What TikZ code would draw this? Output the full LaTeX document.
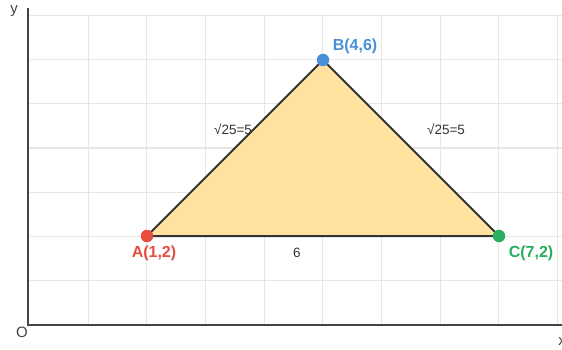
\documentclass[tikz,border=0pt]{standalone}
\usepackage{fontspec}
\setmainfont{Liberation Sans}
\definecolor{gridc}{HTML}{E6E6E6}
\definecolor{axisc}{HTML}{444444}
\definecolor{txtc}{HTML}{333333}
\definecolor{fillc}{HTML}{FFE2A0}
\definecolor{redc}{HTML}{E74C3C}
\definecolor{bluec}{HTML}{4A90D9}
\definecolor{greenc}{HTML}{27AE60}
\begin{document}
\begin{tikzpicture}[x=1pt,y=-1pt,
  gridline/.style={draw=gridc,line width=1pt},
  axisline/.style={draw=axisc,line width=2pt},
  vertex/.style={circle,inner sep=0pt,minimum size=12.5pt},
  ptlabel/.style={font=\fontsize{16}{18}\selectfont\bfseries,inner sep=0pt},
  sidelabel/.style={font=\fontsize{13.5}{15}\selectfont,text=txtc,inner sep=0pt},
  axislabel/.style={font=\fontsize{15}{17}\selectfont,text=axisc,inner sep=0pt}]
\useasboundingbox (0,0) rectangle (562,350);
% grid
\foreach \k in {0,...,8} {
  \draw[gridline] ({88.3+58.67*\k},15) -- ({88.3+58.67*\k},325);
}
\foreach \k in {1,...,7} {
  \draw[gridline] (28,{324-44*\k}) -- (562,{324-44*\k});
}
% axes
\coordinate (O) at (28,325);
\coordinate (ytop) at (28,8);
\coordinate (xend) at (562,325);
\draw[axisline] (ytop) -- (O) -- (xend);
\node[axislabel] (ylab) at (14,11) {y};
\node[axislabel] (olab) at (22,332) {O};
\node[axislabel] (xlab) at (562,342) {x};
% triangle
\coordinate (A) at (147,236);
\coordinate (B) at (323,60);
\coordinate (C) at (499,236);
\draw[fill=fillc,draw=txtc,line width=2pt,line join=miter] (A) -- (B) -- (C) -- cycle;
\node[vertex,fill=redc] (Ad) at (A) {};
\node[vertex,fill=bluec] (Bd) at (B) {};
\node[vertex,fill=greenc] (Cd) at (C) {};
\node[ptlabel,text=redc] (Al) at (154,253) {A(1,2)};
\node[ptlabel,text=bluec] (Bl) at (355,46) {B(4,6)};
\node[ptlabel,text=greenc] (Cl) at (531,253) {C(7,2)};
\node[sidelabel] (ab) at (233,129) {√25=5};
\node[sidelabel] (bc) at (446,129) {√25=5};
\node[sidelabel] (ac) at (297,253) {6};
\end{tikzpicture}
\end{document}
